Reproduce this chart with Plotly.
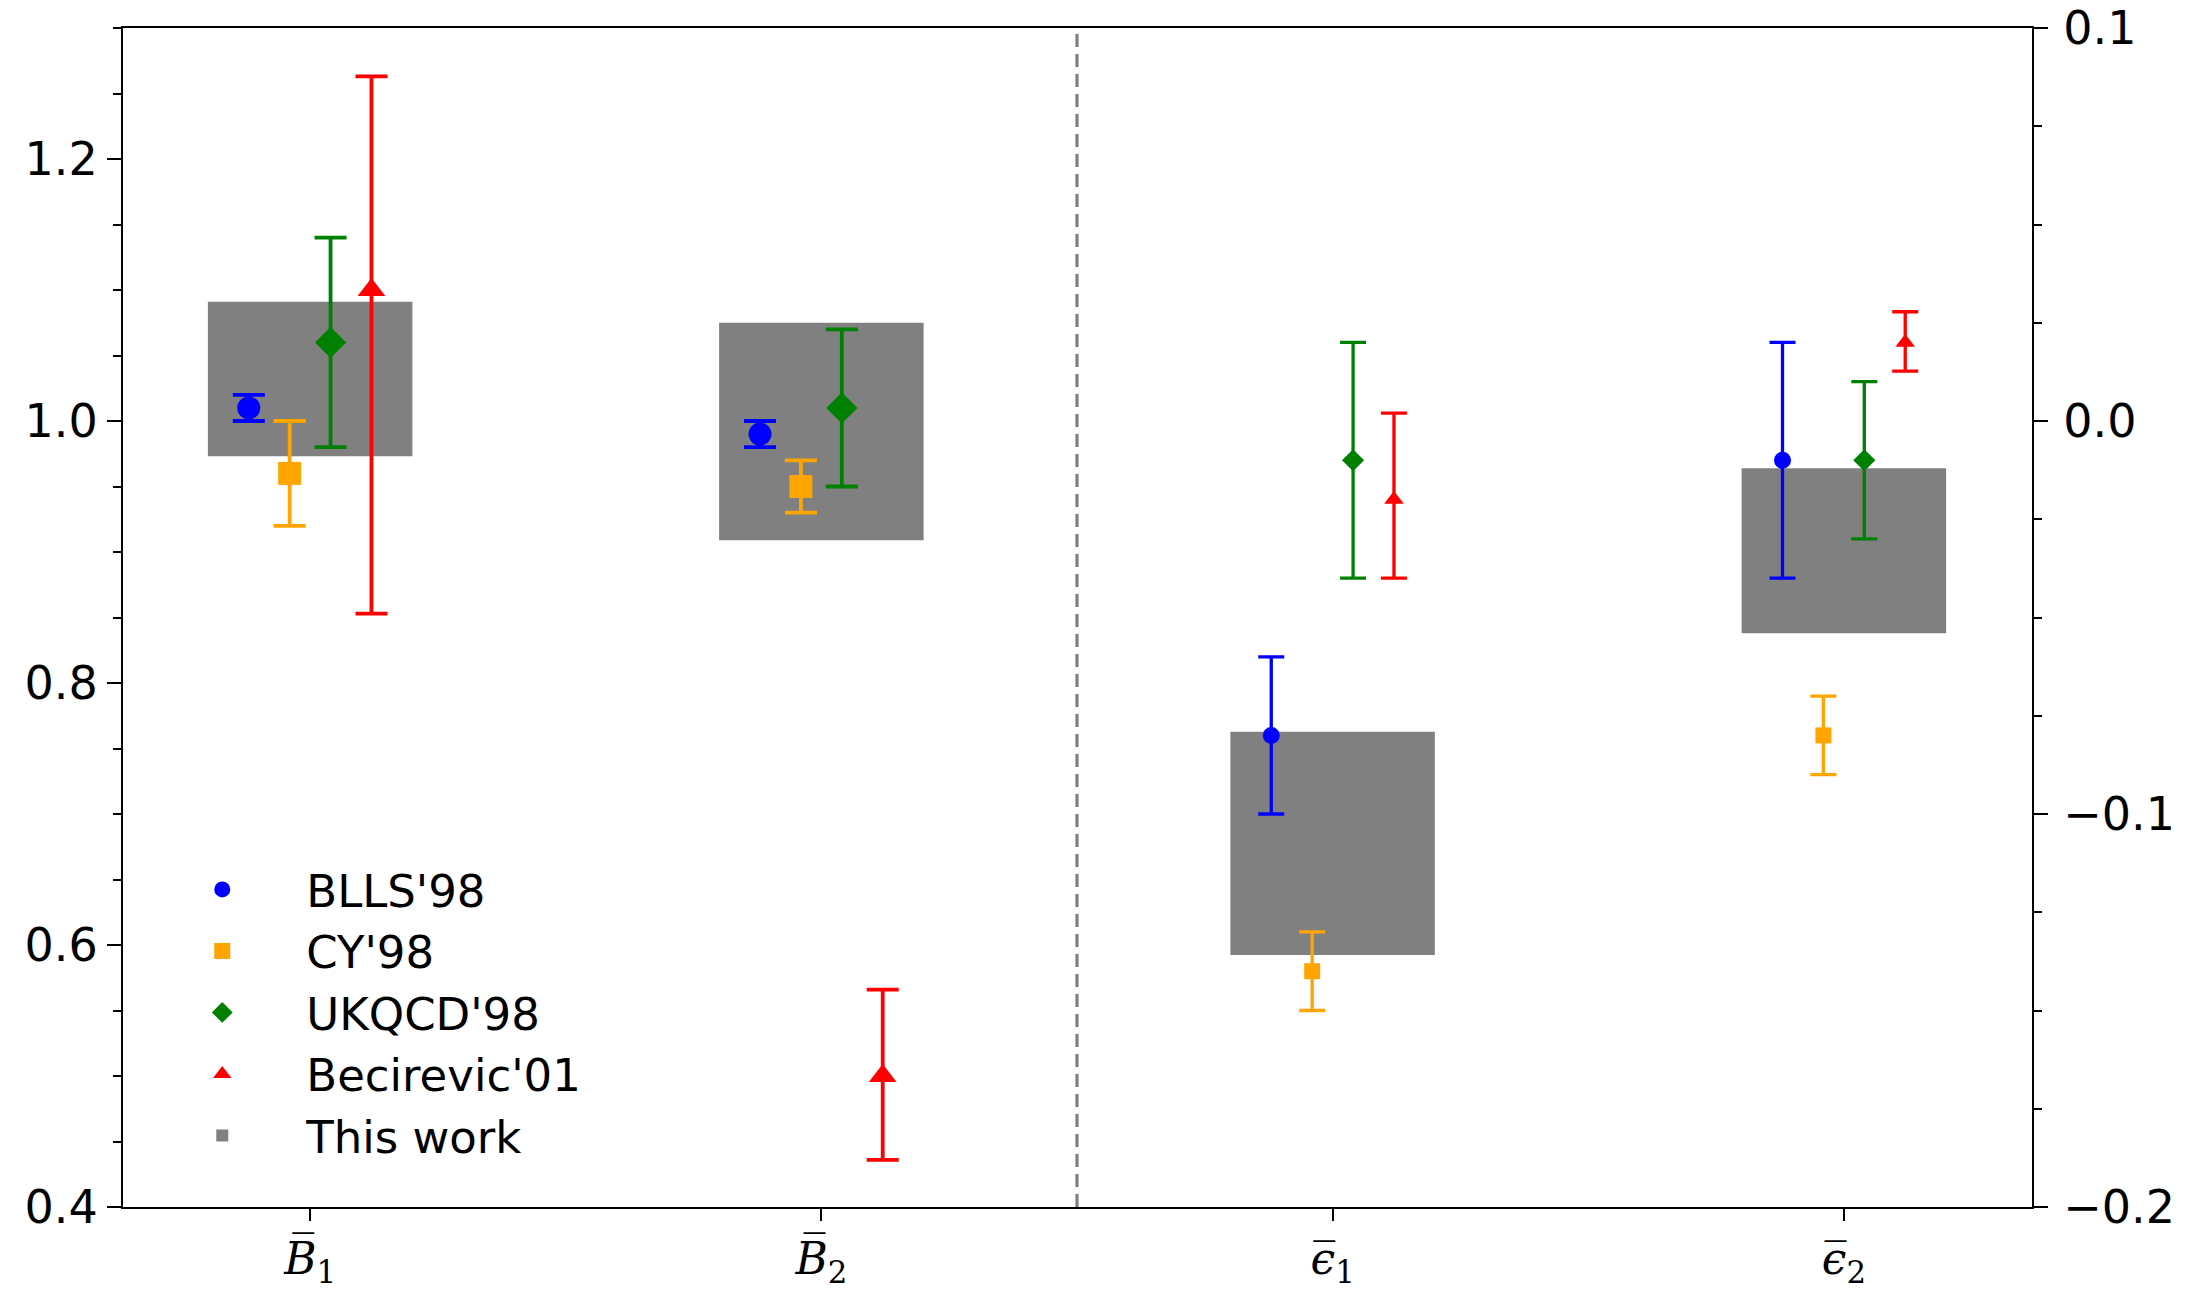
import plotly.graph_objects as go

# Parameter positions along the category axis
categories = ["B1", "B2", "e1", "e2"]
cat_pos = [0, 1, 2, 3]
tick_text = [
    "<i>B\u0305</i><sub>1</sub>",
    "<i>B\u0305</i><sub>2</sub>",
    "<i>\u03f5\u0305</i><sub>1</sub>",
    "<i>\u03f5\u0305</i><sub>2</sub>",
]

# Literature results: value, upper error, lower error (B on left axis, eps on right axis)
blls_val = [1.01, 0.99, -0.08, -0.01]
blls_up = [0.01, 0.01, 0.02, 0.03]
blls_dn = [0.01, 0.01, 0.02, 0.03]

cy_val = [0.96, 0.95, -0.14, -0.08]
cy_up = [0.04, 0.02, 0.01, 0.01]
cy_dn = [0.04, 0.02, 0.01, 0.01]

ukqcd_val = [1.06, 1.01, -0.01, -0.01]
ukqcd_up = [0.08, 0.06, 0.03, 0.02]
ukqcd_dn = [0.08, 0.06, 0.03, 0.02]

bec_val = [1.10, 0.50, -0.02, 0.02]
bec_up = [0.163, 0.066, 0.022, 0.0078]
bec_dn = [0.247, 0.064, 0.020, 0.0073]

# This work: central value and half-width of the band
this_val = [1.032, 0.992, -0.1075, -0.033]
this_err = [0.059, 0.083, 0.0284, 0.021]

offsets = [-0.12, -0.04, 0.04, 0.12]

series = [
    ("BLLS'98", blls_val, blls_up, blls_dn, "blue", "circle", 23, 17),
    ("CY'98", cy_val, cy_up, cy_dn, "orange", "square", 23, 16),
    ("UKQCD'98", ukqcd_val, ukqcd_up, ukqcd_dn, "green", "diamond", 24, 17),
    ("Becirevic'01", bec_val, bec_up, bec_dn, "red", "triangle-up", 24, 17),
]

fig = go.Figure()

# Shaded bands for this work
fig.add_trace(go.Bar(
    x=cat_pos[:2],
    base=[v - e for v, e in zip(this_val[:2], this_err[:2])],
    y=[2 * e for e in this_err[:2]],
    width=0.4, marker=dict(color="#808080", line=dict(width=0)),
    name="This work", legendgroup="tw", showlegend=True, legendrank=5,
    yaxis="y",
))
fig.add_trace(go.Bar(
    x=cat_pos[2:],
    base=[v - e for v, e in zip(this_val[2:], this_err[2:])],
    y=[2 * e for e in this_err[2:]],
    width=0.4, marker=dict(color="#808080", line=dict(width=0)),
    name="This work", legendgroup="tw", showlegend=False,
    yaxis="y2",
))

for i, (name, val, up, dn, color, sym, size_l, size_r) in enumerate(series):
    off = offsets[i]
    fig.add_trace(go.Scatter(
        x=[p + off for p in cat_pos[:2]], y=val[:2], mode="markers",
        marker=dict(color=color, symbol=sym, size=size_l, line=dict(width=0)),
        error_y=dict(type="data", symmetric=False, array=up[:2], arrayminus=dn[:2],
                     color=color, thickness=3.8, width=16),
        name=name, legendgroup=name, legendrank=i + 1, yaxis="y",
    ))
    fig.add_trace(go.Scatter(
        x=[p + off for p in cat_pos[2:]], y=val[2:], mode="markers",
        marker=dict(color=color, symbol=sym, size=size_r, line=dict(width=0)),
        error_y=dict(type="data", symmetric=False, array=up[2:], arrayminus=dn[2:],
                     color=color, thickness=3.3, width=13),
        name=name, legendgroup=name, showlegend=False, yaxis="y2",
    ))

# Separator between the B and epsilon parameters
fig.add_shape(type="line", xref="x", yref="paper", x0=1.5, x1=1.5, y0=0, y1=1,
              line=dict(color="#7f7f7f", width=3.2, dash="13px,7px"))

tick_font = dict(family="DejaVu Sans", size=46, color="black")

fig.update_layout(
    width=2190, height=1296,
    margin=dict(l=123, r=158, t=28, b=89),
    plot_bgcolor="white", paper_bgcolor="white",
    barmode="overlay",
    showlegend=True,
    legend=dict(x=0.008, y=0.03, xanchor="left", yanchor="bottom",
                font=dict(family="DejaVu Sans", size=45, color="black"),
                bgcolor="rgba(0,0,0,0)", itemwidth=158, tracegroupgap=0),
    xaxis=dict(range=[-0.366, 3.368], tickvals=cat_pos, ticktext=tick_text,
               automargin=False,
               showline=True, linecolor="black", linewidth=2.2, mirror=True,
               ticks="outside", ticklen=12, tickwidth=2, tickcolor="black",
               ticklabelstandoff=0,
               showgrid=False, zeroline=False,
               tickfont=dict(family="DejaVu Serif", size=44, color="black")),
    yaxis=dict(range=[0.4, 1.3], tickvals=[0.4, 0.6, 0.8, 1.0, 1.2],
               ticktext=["0.4", "0.6", "0.8", "1.0", "1.2"],
               automargin=False,
               showline=True, linecolor="black", linewidth=2.2,
               ticks="outside", ticklen=14, tickwidth=2, tickcolor="black",
               minor=dict(dtick=0.05, tick0=0.4, ticks="outside", ticklen=8,
                          tickwidth=1.5, tickcolor="black", showgrid=False),
               showgrid=False, zeroline=False, tickfont=tick_font),
    yaxis2=dict(range=[-0.2, 0.1], overlaying="y", side="right",
                tickvals=[-0.2, -0.1, 0.0, 0.1],
                ticktext=["\u22120.2", "\u22120.1", "0.0", "0.1"],
                automargin=False,
                showline=True, linecolor="black", linewidth=2.2,
                ticks="outside", ticklen=14, tickwidth=2, tickcolor="black",
                ticklabelstandoff=6,
                minor=dict(dtick=0.025, tick0=-0.2, ticks="outside", ticklen=8,
                           tickwidth=1.5, tickcolor="black", showgrid=False),
                showgrid=False, zeroline=False, tickfont=tick_font),
)

fig.write_html("out.html")
